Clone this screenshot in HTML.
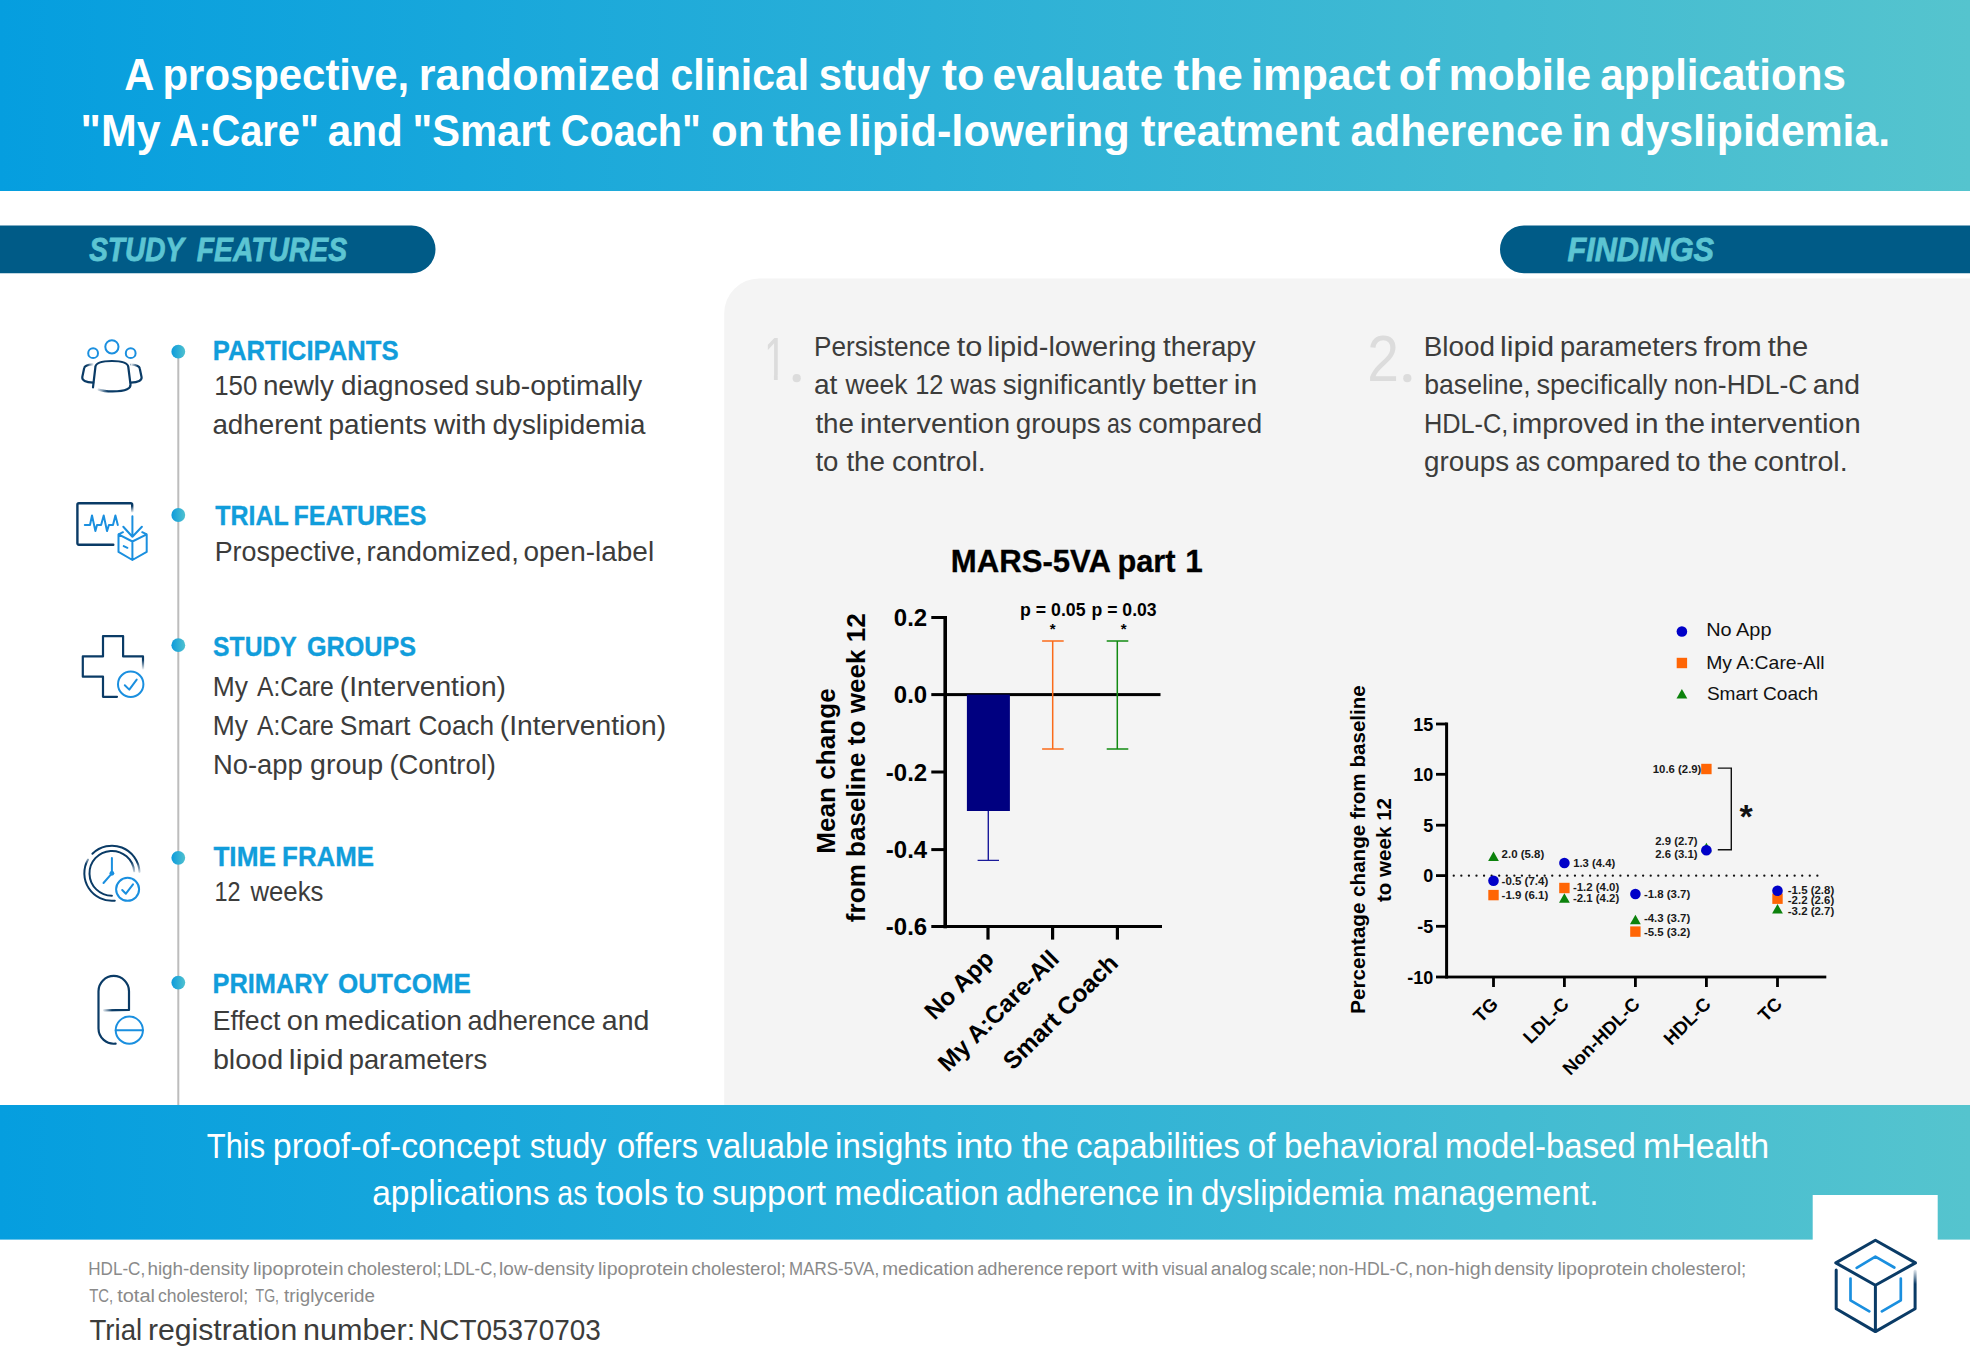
<!DOCTYPE html>
<html lang="en"><head><meta charset="utf-8"><title>mHealth apps and lipid-lowering treatment adherence</title>
<style>
html,body{margin:0;padding:0;background:#fff;}
body{width:1970px;height:1350px;overflow:hidden;font-family:"Liberation Sans",sans-serif;}
svg{display:block;position:absolute;left:0;top:0;}
text{font-family:"Liberation Sans",sans-serif;white-space:pre;}
</style></head><body>
<svg width="1970" height="1350" viewBox="0 0 1970 1350">
<defs>
<linearGradient id="gb" x1="0" y1="0" x2="1" y2="0"><stop offset="0" stop-color="#059edf"/><stop offset="1" stop-color="#55c4ce"/></linearGradient>
<linearGradient id="gd" x1="0" y1="0" x2="1" y2="0"><stop offset="0" stop-color="#0d9bdc"/><stop offset="1" stop-color="#4fc1cf"/></linearGradient>
<linearGradient id="fR" x1="0" y1="0" x2="1" y2="0"><stop offset="0" stop-color="#fff" stop-opacity="0"/><stop offset="1" stop-color="#fff"/></linearGradient>
<linearGradient id="fL" x1="1" y1="0" x2="0" y2="0"><stop offset="0" stop-color="#fff" stop-opacity="0"/><stop offset="1" stop-color="#fff"/></linearGradient>
<linearGradient id="fD" x1="0" y1="0" x2="0" y2="1"><stop offset="0" stop-color="#fff" stop-opacity="0"/><stop offset="1" stop-color="#fff"/></linearGradient>
<linearGradient id="fU" x1="0" y1="1" x2="0" y2="0"><stop offset="0" stop-color="#fff" stop-opacity="0"/><stop offset="1" stop-color="#fff"/></linearGradient>
</defs>

<rect x="0" y="0" width="1970" height="191" fill="url(#gb)"/>
<text y="89.8" font-size="44" fill="#fff" font-weight="bold"><tspan x="124.3" textLength="28.6" lengthAdjust="spacingAndGlyphs">A</tspan> <tspan x="162.5" textLength="246.7" lengthAdjust="spacingAndGlyphs">prospective,</tspan> <tspan x="418.8" textLength="241.7" lengthAdjust="spacingAndGlyphs">randomized</tspan> <tspan x="670.5" textLength="138.5" lengthAdjust="spacingAndGlyphs">clinical</tspan> <tspan x="818.7" textLength="111.5" lengthAdjust="spacingAndGlyphs">study</tspan> <tspan x="942.1" textLength="42.4" lengthAdjust="spacingAndGlyphs">to</tspan> <tspan x="992.5" textLength="170.6" lengthAdjust="spacingAndGlyphs">evaluate</tspan> <tspan x="1173.8" textLength="69.1" lengthAdjust="spacingAndGlyphs">the</tspan> <tspan x="1251.0" textLength="139.3" lengthAdjust="spacingAndGlyphs">impact</tspan> <tspan x="1398.8" textLength="40.9" lengthAdjust="spacingAndGlyphs">of</tspan> <tspan x="1448.4" textLength="142.7" lengthAdjust="spacingAndGlyphs">mobile</tspan> <tspan x="1600.3" textLength="245.6" lengthAdjust="spacingAndGlyphs">applications</tspan></text>
<text y="145.6" font-size="44" fill="#fff" font-weight="bold"><tspan x="80.6" textLength="80.0" lengthAdjust="spacingAndGlyphs">&quot;My</tspan> <tspan x="169.4" textLength="149.5" lengthAdjust="spacingAndGlyphs">A:Care&quot;</tspan> <tspan x="327.8" textLength="75.1" lengthAdjust="spacingAndGlyphs">and</tspan> <tspan x="412.5" textLength="137.8" lengthAdjust="spacingAndGlyphs">&quot;Smart</tspan> <tspan x="560.8" textLength="140.0" lengthAdjust="spacingAndGlyphs">Coach&quot;</tspan> <tspan x="711.0" textLength="53.4" lengthAdjust="spacingAndGlyphs">on</tspan> <tspan x="772.5" textLength="69.4" lengthAdjust="spacingAndGlyphs">the</tspan> <tspan x="847.7" textLength="282.1" lengthAdjust="spacingAndGlyphs">lipid-lowering</tspan> <tspan x="1140.9" textLength="198.8" lengthAdjust="spacingAndGlyphs">treatment</tspan> <tspan x="1350.6" textLength="212.6" lengthAdjust="spacingAndGlyphs">adherence</tspan> <tspan x="1571.2" textLength="40.2" lengthAdjust="spacingAndGlyphs">in</tspan> <tspan x="1619.5" textLength="270.6" lengthAdjust="spacingAndGlyphs">dyslipidemia.</tspan></text>
<path d="M0 225.4H411.6a23.9 23.9 0 0 1 0 47.8H0Z" fill="#005b87"/>
<path d="M1970 225.4H1523.9a23.9 23.9 0 0 0 0 47.8H1970Z" fill="#005b87"/>
<text y="261.0" font-size="33.5" fill="#5cc5d3" font-weight="bold" font-style="italic" stroke="#5cc5d3" stroke-width="0.8"><tspan x="89.2" textLength="94.3" lengthAdjust="spacingAndGlyphs">STUDY</tspan> <tspan x="196.8" textLength="150.2" lengthAdjust="spacingAndGlyphs">FEATURES</tspan></text>
<text x="1567.5" y="261.0" font-size="33.5" fill="#5cc5d3" font-weight="bold" font-style="italic" textLength="146.4" lengthAdjust="spacingAndGlyphs" stroke="#5cc5d3" stroke-width="0.8">FINDINGS</text>
<path d="M1970 278.4H759.2a35 35 0 0 0 -35 35V1105H1970Z" fill="#f4f4f4"/>
<rect x="177.3" y="352" width="2" height="753" fill="#bdbdbd"/>
<circle cx="178.3" cy="351.7" r="6.9" fill="url(#gd)"/>
<circle cx="178.3" cy="515" r="6.9" fill="url(#gd)"/>
<circle cx="178.3" cy="645.2" r="6.9" fill="url(#gd)"/>
<circle cx="178.3" cy="857.8" r="6.9" fill="url(#gd)"/>
<circle cx="178.3" cy="982.6" r="6.9" fill="url(#gd)"/>
<text y="359.8" font-size="28" fill="#119ddb" font-weight="bold" stroke="#119ddb" stroke-width="0.35"><tspan x="212.8" textLength="185.8" lengthAdjust="spacingAndGlyphs">PARTICIPANTS</tspan></text>
<text y="395.4" font-size="27.5" fill="#3c3c3b"><tspan x="214.2" textLength="43.1" lengthAdjust="spacingAndGlyphs">150</tspan> <tspan x="262.9" textLength="71.0" lengthAdjust="spacingAndGlyphs">newly</tspan> <tspan x="341.0" textLength="128.3" lengthAdjust="spacingAndGlyphs">diagnosed</tspan> <tspan x="475.0" textLength="167.3" lengthAdjust="spacingAndGlyphs">sub-optimally</tspan></text>
<text y="434.4" font-size="27.5" fill="#3c3c3b"><tspan x="212.4" textLength="109.7" lengthAdjust="spacingAndGlyphs">adherent</tspan> <tspan x="328.5" textLength="98.2" lengthAdjust="spacingAndGlyphs">patients</tspan> <tspan x="434.1" textLength="52.4" lengthAdjust="spacingAndGlyphs">with</tspan> <tspan x="492.5" textLength="153.1" lengthAdjust="spacingAndGlyphs">dyslipidemia</tspan></text>
<text y="524.8" font-size="28" fill="#119ddb" font-weight="bold" stroke="#119ddb" stroke-width="0.35"><tspan x="215.2" textLength="73.1" lengthAdjust="spacingAndGlyphs">TRIAL</tspan> <tspan x="293.5" textLength="133.0" lengthAdjust="spacingAndGlyphs">FEATURES</tspan></text>
<text y="561.1" font-size="27.5" fill="#3c3c3b"><tspan x="214.7" textLength="147.8" lengthAdjust="spacingAndGlyphs">Prospective,</tspan> <tspan x="366.6" textLength="152.3" lengthAdjust="spacingAndGlyphs">randomized,</tspan> <tspan x="523.5" textLength="130.6" lengthAdjust="spacingAndGlyphs">open-label</tspan></text>
<text y="655.8" font-size="28" fill="#119ddb" font-weight="bold" stroke="#119ddb" stroke-width="0.35"><tspan x="213.1" textLength="83.2" lengthAdjust="spacingAndGlyphs">STUDY</tspan> <tspan x="306.9" textLength="109.1" lengthAdjust="spacingAndGlyphs">GROUPS</tspan></text>
<text y="696.4" font-size="27.5" fill="#3c3c3b"><tspan x="212.7" textLength="35.2" lengthAdjust="spacingAndGlyphs">My</tspan> <tspan x="257.0" textLength="76.8" lengthAdjust="spacingAndGlyphs">A:Care</tspan> <tspan x="339.8" textLength="166.2" lengthAdjust="spacingAndGlyphs">(Intervention)</tspan></text>
<text y="734.8" font-size="27.5" fill="#3c3c3b"><tspan x="212.7" textLength="35.2" lengthAdjust="spacingAndGlyphs">My</tspan> <tspan x="257.0" textLength="76.8" lengthAdjust="spacingAndGlyphs">A:Care</tspan> <tspan x="339.8" textLength="70.6" lengthAdjust="spacingAndGlyphs">Smart</tspan> <tspan x="418.4" textLength="75.8" lengthAdjust="spacingAndGlyphs">Coach</tspan> <tspan x="499.8" textLength="166.3" lengthAdjust="spacingAndGlyphs">(Intervention)</tspan></text>
<text y="773.6" font-size="27.5" fill="#3c3c3b"><tspan x="213.0" textLength="89.8" lengthAdjust="spacingAndGlyphs">No-app</tspan> <tspan x="310.0" textLength="73.2" lengthAdjust="spacingAndGlyphs">group</tspan> <tspan x="389.4" textLength="106.5" lengthAdjust="spacingAndGlyphs">(Control)</tspan></text>
<text y="866.3" font-size="28" fill="#119ddb" font-weight="bold" stroke="#119ddb" stroke-width="0.35"><tspan x="213.4" textLength="62.5" lengthAdjust="spacingAndGlyphs">TIME</tspan> <tspan x="282.1" textLength="92.0" lengthAdjust="spacingAndGlyphs">FRAME</tspan></text>
<text y="900.5" font-size="27.5" fill="#3c3c3b"><tspan x="214.4" textLength="26.1" lengthAdjust="spacingAndGlyphs">12</tspan> <tspan x="250.4" textLength="73.1" lengthAdjust="spacingAndGlyphs">weeks</tspan></text>
<text y="993.3" font-size="28" fill="#119ddb" font-weight="bold" stroke="#119ddb" stroke-width="0.35"><tspan x="212.5" textLength="115.6" lengthAdjust="spacingAndGlyphs">PRIMARY</tspan> <tspan x="338.0" textLength="132.9" lengthAdjust="spacingAndGlyphs">OUTCOME</tspan></text>
<text y="1030.0" font-size="27.5" fill="#3c3c3b"><tspan x="212.8" textLength="67.6" lengthAdjust="spacingAndGlyphs">Effect</tspan> <tspan x="286.8" textLength="32.2" lengthAdjust="spacingAndGlyphs">on</tspan> <tspan x="324.3" textLength="137.8" lengthAdjust="spacingAndGlyphs">medication</tspan> <tspan x="467.5" textLength="128.1" lengthAdjust="spacingAndGlyphs">adherence</tspan> <tspan x="601.8" textLength="47.7" lengthAdjust="spacingAndGlyphs">and</tspan></text>
<text y="1069.1" font-size="27.5" fill="#3c3c3b"><tspan x="212.9" textLength="70.3" lengthAdjust="spacingAndGlyphs">blood</tspan> <tspan x="288.8" textLength="54.7" lengthAdjust="spacingAndGlyphs">lipid</tspan> <tspan x="348.7" textLength="138.4" lengthAdjust="spacingAndGlyphs">parameters</tspan></text>
<circle cx="111.9" cy="346.8" r="6.6" fill="none" stroke="#1a8fdf" stroke-width="2"/>
<circle cx="93.1" cy="353.2" r="4.9" fill="none" stroke="#1a8fdf" stroke-width="2"/>
<circle cx="130.7" cy="353.2" r="4.9" fill="none" stroke="#1a8fdf" stroke-width="2"/>
<path d="M93 387.4 L95.4 367 C95.8 362.8 101 361 111.9 361 C122.8 361 127.8 362.8 128.3 367 L130.5 384.4 C130.9 388 127 391.4 112.5 391.4 C106 391.4 101.5 390.6 98.5 389.6" fill="none" stroke="#0a3b66" stroke-width="2.2" stroke-linecap="round" stroke-linejoin="round" />
<path d="M92.8 364.3 C87.5 364.6 84.6 365.6 84.2 368 L82.3 377 C81.8 380.4 85.5 382.3 93.2 382.6" fill="none" stroke="#0a3b66" stroke-width="2.2" stroke-linecap="round" stroke-linejoin="round" />
<path d="M131.2 364.6 C136.4 364.9 139.3 365.8 139.7 368.2 L141.6 377.2 C142 380.5 138.4 382.3 130.8 382.6" fill="none" stroke="#0a3b66" stroke-width="2.2" stroke-linecap="round" stroke-linejoin="round" />
<rect x="87" y="362" width="7" height="5" fill="url(#fR)"/>
<rect x="130.5" y="362" width="7" height="5" fill="url(#fL)"/>
<rect x="96" y="387.5" width="12" height="6" fill="url(#fL)"/>
<path d="M132.2 511.5 V504.8 a1.5 1.5 0 0 0 -1.5 -1.5 H78.9 a1.5 1.5 0 0 0 -1.5 1.5 V543.3 a1.5 1.5 0 0 0 1.5 1.5 H113.3" fill="none" stroke="#0a3b66" stroke-width="2.4" stroke-linecap="round" stroke-linejoin="round" />
<rect x="130" y="506" width="5" height="7" fill="url(#fD)"/>
<path d="M84.8 525 H90 L92 515.4 L95.4 531.1 L97 525 H101.1 L103.7 515.4 L107 531.1 L108.9 525 H113 L115.4 515.4 L117.8 525" fill="none" stroke="#1a8fdf" stroke-width="2.0" stroke-linecap="round" stroke-linejoin="round" />
<path d="M132.4 516.3 V536.7 M123.3 526.8 L132.4 536.7 L141.9 526.8" fill="none" stroke="#1a8fdf" stroke-width="2.0" stroke-linecap="round" stroke-linejoin="round" />
<path d="M118.5 534.4 L132.4 541.5 L146.7 534.4 M118.5 534.4 V551.9 L132.4 560 L146.7 551.9 V534.4 M132.4 541.5 V560 M118.5 534.4 L123 532.2 M146.7 534.4 L142.2 532.2 M123.7 546.1 L127.4 547.8" fill="none" stroke="#1a8fdf" stroke-width="2.0" stroke-linecap="round" stroke-linejoin="round" />
<path d="M117 696.8 H103 V676.7 H82.8 V656.4 H103 V636.1 H123.1 V656.4 H143 V669" fill="none" stroke="#0a3b66" stroke-width="2.2" stroke-linecap="round" stroke-linejoin="round" stroke-linecap="butt"/>
<rect x="141" y="660" width="4" height="10" fill="url(#fD)"/>
<circle cx="130.7" cy="684.3" r="12.7" fill="#fff" stroke="#1a8fdf" stroke-width="2"/>
<path d="M124.8 685.2 L129.3 689.6 L136.7 679.6" fill="none" stroke="#1a8fdf" stroke-width="2.0" stroke-linecap="round" stroke-linejoin="round" />
<path d="M134.2 871.3 A22.4 22.4 0 1 0 111.9 895.7" fill="none" stroke="#0a3b66" stroke-width="2.0" stroke-linecap="round" stroke-linejoin="round" />
<path d="M92.4 853.8 A27.6 27.6 0 0 1 139.5 871.9" fill="none" stroke="#0a3b66" stroke-width="2.0" stroke-linecap="round" stroke-linejoin="round" />
<path d="M88.0 859.5 A27.6 27.6 0 0 0 114.8 900.7" fill="none" stroke="#0a3b66" stroke-width="2.0" stroke-linecap="round" stroke-linejoin="round" />
<rect x="130" y="862" width="12" height="13" fill="url(#fD)"/>
<rect x="82" y="855" width="9" height="9" fill="url(#fU)"/>
<path d="M111.9 858.1 V873.3 L103.5 883" fill="none" stroke="#1a8fdf" stroke-width="2.0" stroke-linecap="round" stroke-linejoin="round" />
<circle cx="111.9" cy="873.3" r="2.4" fill="#1a8fdf"/>
<circle cx="127.6" cy="889.3" r="11.5" fill="#fff" stroke="#1a8fdf" stroke-width="2"/>
<path d="M122.2 890 L125.9 893.7 L133 884.4" fill="none" stroke="#1a8fdf" stroke-width="2.0" stroke-linecap="round" stroke-linejoin="round" />
<path d="M104 1010.3 L129 1009.9 V991.2 A15.25 15.25 0 0 0 98.5 991.2 V1028.5 A15.25 15.25 0 0 0 115.6 1043.6" fill="none" stroke="#0a3b66" stroke-width="2.2" stroke-linecap="round" stroke-linejoin="round" />
<rect x="102" y="1008" width="10" height="5" fill="url(#fL)"/>
<circle cx="129.3" cy="1030.2" r="13.6" fill="#fff" stroke="#1a8fdf" stroke-width="2"/>
<path d="M115.7 1030.2 H142.9" fill="none" stroke="#1a8fdf" stroke-width="2.0" stroke-linecap="round" stroke-linejoin="round" />
<text x="763.9" y="380.3" font-size="62" fill="#dcdcdc" textLength="22.4" lengthAdjust="spacingAndGlyphs">1</text>
<rect x="764.5" y="375" width="9.4" height="6" fill="#f4f4f4"/><rect x="777.7" y="375" width="8" height="6" fill="#f4f4f4"/>
<text x="792.5" y="379.8" font-size="30" fill="#dcdcdc">.</text>
<circle cx="796.7" cy="378.2" r="4.1" fill="#dcdcdc"/>
<text x="1367.2" y="381.4" font-size="64" fill="#dcdcdc" textLength="31.7" lengthAdjust="spacingAndGlyphs">2</text>
<text x="1403.1" y="379.8" font-size="30" fill="#dcdcdc">.</text>
<circle cx="1407.3" cy="378.2" r="4.1" fill="#dcdcdc"/>
<text y="355.6" font-size="27.5" fill="#3c3c3b"><tspan x="814.1" textLength="136.5" lengthAdjust="spacingAndGlyphs">Persistence</tspan> <tspan x="956.7" textLength="25.7" lengthAdjust="spacingAndGlyphs">to</tspan> <tspan x="987.2" textLength="169.2" lengthAdjust="spacingAndGlyphs">lipid-lowering</tspan> <tspan x="1163.0" textLength="92.7" lengthAdjust="spacingAndGlyphs">therapy</tspan></text>
<text y="394.1" font-size="27.5" fill="#3c3c3b"><tspan x="813.9" textLength="23.5" lengthAdjust="spacingAndGlyphs">at</tspan> <tspan x="845.6" textLength="61.9" lengthAdjust="spacingAndGlyphs">week</tspan> <tspan x="915.2" textLength="28.3" lengthAdjust="spacingAndGlyphs">12</tspan> <tspan x="950.5" textLength="45.8" lengthAdjust="spacingAndGlyphs">was</tspan> <tspan x="1002.7" textLength="143.0" lengthAdjust="spacingAndGlyphs">significantly</tspan> <tspan x="1151.9" textLength="75.9" lengthAdjust="spacingAndGlyphs">better</tspan> <tspan x="1233.7" textLength="23.5" lengthAdjust="spacingAndGlyphs">in</tspan></text>
<text y="432.9" font-size="27.5" fill="#3c3c3b"><tspan x="815.4" textLength="38.6" lengthAdjust="spacingAndGlyphs">the</tspan> <tspan x="859.9" textLength="150.3" lengthAdjust="spacingAndGlyphs">intervention</tspan> <tspan x="1015.7" textLength="85.0" lengthAdjust="spacingAndGlyphs">groups</tspan> <tspan x="1107.0" textLength="24.5" lengthAdjust="spacingAndGlyphs">as</tspan> <tspan x="1138.3" textLength="123.9" lengthAdjust="spacingAndGlyphs">compared</tspan></text>
<text y="471.4" font-size="27.5" fill="#3c3c3b"><tspan x="815.4" textLength="23.0" lengthAdjust="spacingAndGlyphs">to</tspan> <tspan x="846.4" textLength="38.6" lengthAdjust="spacingAndGlyphs">the</tspan> <tspan x="892.1" textLength="93.7" lengthAdjust="spacingAndGlyphs">control.</tspan></text>
<text y="355.6" font-size="27.5" fill="#3c3c3b"><tspan x="1423.7" textLength="71.4" lengthAdjust="spacingAndGlyphs">Blood</tspan> <tspan x="1500.1" textLength="54.1" lengthAdjust="spacingAndGlyphs">lipid</tspan> <tspan x="1559.9" textLength="137.6" lengthAdjust="spacingAndGlyphs">parameters</tspan> <tspan x="1703.8" textLength="57.9" lengthAdjust="spacingAndGlyphs">from</tspan> <tspan x="1767.7" textLength="40.5" lengthAdjust="spacingAndGlyphs">the</tspan></text>
<text y="394.1" font-size="27.5" fill="#3c3c3b"><tspan x="1424.3" textLength="106.4" lengthAdjust="spacingAndGlyphs">baseline,</tspan> <tspan x="1536.4" textLength="131.0" lengthAdjust="spacingAndGlyphs">specifically</tspan> <tspan x="1673.8" textLength="133.5" lengthAdjust="spacingAndGlyphs">non-HDL-C</tspan> <tspan x="1812.8" textLength="47.3" lengthAdjust="spacingAndGlyphs">and</tspan></text>
<text y="432.9" font-size="27.5" fill="#3c3c3b"><tspan x="1423.9" textLength="84.5" lengthAdjust="spacingAndGlyphs">HDL-C,</tspan> <tspan x="1512.1" textLength="117.1" lengthAdjust="spacingAndGlyphs">improved</tspan> <tspan x="1634.9" textLength="23.6" lengthAdjust="spacingAndGlyphs">in</tspan> <tspan x="1665.1" textLength="39.9" lengthAdjust="spacingAndGlyphs">the</tspan> <tspan x="1710.1" textLength="150.7" lengthAdjust="spacingAndGlyphs">intervention</tspan></text>
<text y="471.4" font-size="27.5" fill="#3c3c3b"><tspan x="1424.0" textLength="85.1" lengthAdjust="spacingAndGlyphs">groups</tspan> <tspan x="1515.4" textLength="24.5" lengthAdjust="spacingAndGlyphs">as</tspan> <tspan x="1546.2" textLength="124.0" lengthAdjust="spacingAndGlyphs">compared</tspan> <tspan x="1676.6" textLength="24.0" lengthAdjust="spacingAndGlyphs">to</tspan> <tspan x="1708.1" textLength="39.4" lengthAdjust="spacingAndGlyphs">the</tspan> <tspan x="1753.8" textLength="93.8" lengthAdjust="spacingAndGlyphs">control.</tspan></text>
<text y="572.3" font-size="31.5" fill="#000" font-weight="bold" stroke="#000" stroke-width="0.3"><tspan x="950.8" textLength="159.1" lengthAdjust="spacingAndGlyphs">MARS-5VA</tspan> <tspan x="1117.4" textLength="58.2" lengthAdjust="spacingAndGlyphs">part</tspan></text>
<text x="1185.2" y="572.3" font-size="31.5" fill="#000" font-weight="bold" stroke="#000" stroke-width="0.3">1</text>
<rect x="943.4000000000001" y="616" width="3.6" height="312.3" fill="#000"/>
<rect x="931.3" y="616.0" width="13.900000000000091" height="3" fill="#000"/>
<text x="927.2" y="626.3" font-size="24" fill="#000" font-weight="bold" text-anchor="end">0.2</text>
<rect x="931.3" y="693.1" width="229.20000000000005" height="3" fill="#000"/>
<text x="927.2" y="703.4" font-size="24" fill="#000" font-weight="bold" text-anchor="end">0.0</text>
<rect x="931.3" y="770.5" width="13.900000000000091" height="3" fill="#000"/>
<text x="927.2" y="780.8" font-size="24" fill="#000" font-weight="bold" text-anchor="end">-0.2</text>
<rect x="931.3" y="848.1" width="13.900000000000091" height="3" fill="#000"/>
<text x="927.2" y="858.4" font-size="24" fill="#000" font-weight="bold" text-anchor="end">-0.4</text>
<rect x="931.3" y="925.0" width="230.70000000000005" height="3" fill="#000"/>
<text x="927.2" y="935.3" font-size="24" fill="#000" font-weight="bold" text-anchor="end">-0.6</text>
<rect x="986.4" y="926" width="3.2" height="13.6" fill="#000"/>
<rect x="1051.0" y="926" width="3.2" height="13.6" fill="#000"/>
<rect x="1115.8000000000002" y="926" width="3.2" height="13.6" fill="#000"/>
<rect x="966.9" y="694.6" width="43" height="116.4" fill="#000080"/>
<path d="M988.3 811V860.4M977.6 860.4H999" stroke="#1a1a9a" stroke-width="1.4" fill="none"/>
<path d="M1052.7 641.1V749M1042.1 641.1H1063.7M1042.1 749H1063.7" stroke="#fa6b1a" stroke-width="1.5" fill="none"/>
<path d="M1117.3 641.1V749M1106.7 641.1H1128.3M1106.7 749H1128.3" stroke="#128a12" stroke-width="1.5" fill="none"/>
<text x="1020.1" y="615.8" font-size="17.5" fill="#000" font-weight="bold" textLength="65.4" lengthAdjust="spacingAndGlyphs">p = 0.05</text>
<text x="1091.6" y="615.8" font-size="17.5" fill="#000" font-weight="bold" textLength="65.0" lengthAdjust="spacingAndGlyphs">p = 0.03</text>
<text x="1052.7" y="633.8" font-size="15" fill="#000" font-weight="bold" text-anchor="middle">*</text>
<text x="1123.7" y="633.8" font-size="15" fill="#000" font-weight="bold" text-anchor="middle">*</text>
<text x="834.5" y="771.0" font-size="26.1" fill="#000" font-weight="bold" text-anchor="middle" transform="rotate(-90 834.5 771.0)">Mean change</text>
<text x="865.5" y="767.7" font-size="26.1" fill="#000" font-weight="bold" text-anchor="middle" transform="rotate(-90 865.5 767.7)">from baseline to week 12</text>
<text x="995.3" y="960.4" font-size="24.4" fill="#000" font-weight="bold" text-anchor="end" transform="rotate(-45 995.3 960.4)">No App</text>
<text x="1060.5" y="960.5" font-size="24.4" fill="#000" font-weight="bold" text-anchor="end" transform="rotate(-45 1060.5 960.5)">My A:Care-All</text>
<text x="1119.5" y="964.7" font-size="24.4" fill="#000" font-weight="bold" text-anchor="end" transform="rotate(-45 1119.5 964.7)">Smart Coach</text>
<rect x="1445.1" y="722.5" width="3" height="256" fill="#000"/>
<rect x="1436" y="722.6" width="10.599999999999909" height="2.8" fill="#000"/>
<text x="1433.3" y="730.8" font-size="18" fill="#000" font-weight="bold" text-anchor="end">15</text>
<rect x="1436" y="772.9" width="10.599999999999909" height="2.8" fill="#000"/>
<text x="1433.3" y="781.1" font-size="18" fill="#000" font-weight="bold" text-anchor="end">10</text>
<rect x="1436" y="823.8000000000001" width="10.599999999999909" height="2.8" fill="#000"/>
<text x="1433.3" y="832.0" font-size="18" fill="#000" font-weight="bold" text-anchor="end">5</text>
<rect x="1436" y="874.2" width="10.599999999999909" height="2.8" fill="#000"/>
<text x="1433.3" y="882.4" font-size="18" fill="#000" font-weight="bold" text-anchor="end">0</text>
<rect x="1436" y="924.9" width="10.599999999999909" height="2.8" fill="#000"/>
<text x="1433.3" y="933.1" font-size="18" fill="#000" font-weight="bold" text-anchor="end">-5</text>
<rect x="1436" y="975.6" width="390.29999999999995" height="2.8" fill="#000"/>
<text x="1433.3" y="983.8" font-size="18" fill="#000" font-weight="bold" text-anchor="end">-10</text>
<rect x="1492.1" y="977" width="2.8" height="10" fill="#000"/>
<rect x="1563.0" y="977" width="2.8" height="10" fill="#000"/>
<rect x="1634.0" y="977" width="2.8" height="10" fill="#000"/>
<rect x="1705.0" y="977" width="2.8" height="10" fill="#000"/>
<rect x="1776.1" y="977" width="2.8" height="10" fill="#000"/>
<path d="M1453.76 875.7H1818" stroke="#111" stroke-width="2.3" stroke-linecap="round" stroke-dasharray="0 7.575" fill="none"/>
<path d="M1488.1 860.9L1493.5 851.4L1498.9 860.9Z" fill="#0c820c"/>
<rect x="1488.3" y="889.9" width="10.4" height="10.4" fill="#ff6505"/>
<circle cx="1493.5" cy="880.7" r="5.3" fill="#0000c8"/>
<text x="1501.6" y="858.3" font-size="11" fill="#1a1a1a" font-weight="bold" textLength="42.6" lengthAdjust="spacingAndGlyphs">2.0 (5.8)</text>
<text x="1501.6" y="884.6" font-size="11" fill="#1a1a1a" font-weight="bold" textLength="46.7" lengthAdjust="spacingAndGlyphs">-0.5 (7.4)</text>
<text x="1501.6" y="898.8" font-size="11" fill="#1a1a1a" font-weight="bold" textLength="46.7" lengthAdjust="spacingAndGlyphs">-1.9 (6.1)</text>
<rect x="1559.2" y="882.8" width="10.4" height="10.4" fill="#ff6505"/>
<path d="M1559.0 902.7L1564.4 893.2L1569.8 902.7Z" fill="#0c820c"/>
<circle cx="1564.4" cy="863.0" r="5.3" fill="#0000c8"/>
<text x="1573.2" y="866.9" font-size="11" fill="#1a1a1a" font-weight="bold" textLength="42.0" lengthAdjust="spacingAndGlyphs">1.3 (4.4)</text>
<text x="1572.9" y="891.0" font-size="11" fill="#1a1a1a" font-weight="bold" textLength="46.4" lengthAdjust="spacingAndGlyphs">-1.2 (4.0)</text>
<text x="1572.9" y="902.0" font-size="11" fill="#1a1a1a" font-weight="bold" textLength="46.4" lengthAdjust="spacingAndGlyphs">-2.1 (4.2)</text>
<circle cx="1635.4" cy="894.0" r="5.3" fill="#0000c8"/>
<path d="M1630.0 924.2L1635.4 914.7L1640.8 924.2Z" fill="#0c820c"/>
<rect x="1630.2" y="926.4" width="10.4" height="10.4" fill="#ff6505"/>
<text x="1643.9" y="897.8" font-size="11" fill="#1a1a1a" font-weight="bold" textLength="46.4" lengthAdjust="spacingAndGlyphs">-1.8 (3.7)</text>
<text x="1643.9" y="922.3" font-size="11" fill="#1a1a1a" font-weight="bold" textLength="46.4" lengthAdjust="spacingAndGlyphs">-4.3 (3.7)</text>
<text x="1643.9" y="935.7" font-size="11" fill="#1a1a1a" font-weight="bold" textLength="46.4" lengthAdjust="spacingAndGlyphs">-5.5 (3.2)</text>
<rect x="1701.2" y="763.8" width="10.4" height="10.4" fill="#ff6505"/>
<path d="M1701.0 852.2L1706.4 842.7L1711.8 852.2Z" fill="#0c820c"/>
<circle cx="1706.4" cy="850.2" r="5.3" fill="#0000c8"/>
<text x="1652.8" y="773.0" font-size="11" fill="#1a1a1a" font-weight="bold" textLength="48.6" lengthAdjust="spacingAndGlyphs">10.6 (2.9)</text>
<text x="1655.2" y="844.9" font-size="11" fill="#1a1a1a" font-weight="bold" textLength="42.4" lengthAdjust="spacingAndGlyphs">2.9 (2.7)</text>
<text x="1655.2" y="857.7" font-size="11" fill="#1a1a1a" font-weight="bold" textLength="42.4" lengthAdjust="spacingAndGlyphs">2.6 (3.1)</text>
<path d="M1717.8 768.1H1731.3V849.8H1717.8" stroke="#111" stroke-width="1.4" fill="none"/>
<text x="1746.0" y="828.0" font-size="34" fill="#111" font-weight="bold" text-anchor="middle">*</text>
<rect x="1772.3" y="893.5" width="10.4" height="10.4" fill="#ff6505"/>
<path d="M1772.1 913.5L1777.5 904.0L1782.9 913.5Z" fill="#0c820c"/>
<circle cx="1777.5" cy="890.7" r="5.3" fill="#0000c8"/>
<text x="1787.8" y="893.5" font-size="11" fill="#1a1a1a" font-weight="bold" textLength="46.4" lengthAdjust="spacingAndGlyphs">-1.5 (2.8)</text>
<text x="1787.8" y="904.2" font-size="11" fill="#1a1a1a" font-weight="bold" textLength="46.4" lengthAdjust="spacingAndGlyphs">-2.2 (2.6)</text>
<text x="1787.8" y="914.8" font-size="11" fill="#1a1a1a" font-weight="bold" textLength="46.4" lengthAdjust="spacingAndGlyphs">-3.2 (2.7)</text>
<circle cx="1681.9" cy="631.5" r="5.3" fill="#0000c8"/>
<rect x="1676.7" y="657.8" width="10.4" height="10.4" fill="#ff6505"/>
<path d="M1676.5 698.4L1681.9 688.9L1687.3 698.4Z" fill="#0c820c"/>
<text x="1706.2" y="636.3" font-size="19" fill="#111" textLength="65.3" lengthAdjust="spacingAndGlyphs">No App</text>
<text x="1706.2" y="668.7" font-size="19" fill="#111" textLength="118.4" lengthAdjust="spacingAndGlyphs">My A:Care-All</text>
<text x="1706.9" y="699.7" font-size="19" fill="#111" textLength="111.3" lengthAdjust="spacingAndGlyphs">Smart Coach</text>
<text x="1364.6" y="849.4" font-size="20.6" fill="#000" font-weight="bold" text-anchor="middle" transform="rotate(-90 1364.6 849.4)">Percentage change from baseline</text>
<text x="1390.8" y="850.0" font-size="20.6" fill="#000" font-weight="bold" text-anchor="middle" transform="rotate(-90 1390.8 850.0)">to week 12</text>
<text x="1499.2" y="1005.3" font-size="18.6" fill="#000" font-weight="bold" text-anchor="end" transform="rotate(-45 1499.2 1005.3)">TG</text>
<text x="1570.1" y="1005.3" font-size="18.6" fill="#000" font-weight="bold" text-anchor="end" transform="rotate(-45 1570.1 1005.3)">LDL-C</text>
<text x="1641.1" y="1005.3" font-size="18.6" fill="#000" font-weight="bold" text-anchor="end" transform="rotate(-45 1641.1 1005.3)">Non-HDL-C</text>
<text x="1712.1" y="1005.3" font-size="18.6" fill="#000" font-weight="bold" text-anchor="end" transform="rotate(-45 1712.1 1005.3)">HDL-C</text>
<text x="1783.2" y="1005.3" font-size="18.6" fill="#000" font-weight="bold" text-anchor="end" transform="rotate(-45 1783.2 1005.3)">TC</text>
<rect x="0" y="1105" width="1970" height="134.6" fill="url(#gb)"/>
<rect x="1812.7" y="1195" width="125" height="50" fill="#fff"/>
<text y="1158.4" font-size="34.4" fill="#fff"><tspan x="206.8" textLength="58.4" lengthAdjust="spacingAndGlyphs">This</tspan> <tspan x="272.8" textLength="247.3" lengthAdjust="spacingAndGlyphs">proof-of-concept</tspan> <tspan x="529.7" textLength="76.6" lengthAdjust="spacingAndGlyphs">study</tspan> <tspan x="616.9" textLength="81.2" lengthAdjust="spacingAndGlyphs">offers</tspan> <tspan x="706.5" textLength="122.2" lengthAdjust="spacingAndGlyphs">valuable</tspan> <tspan x="835.1" textLength="112.5" lengthAdjust="spacingAndGlyphs">insights</tspan> <tspan x="955.5" textLength="57.2" lengthAdjust="spacingAndGlyphs">into</tspan> <tspan x="1021.8" textLength="47.1" lengthAdjust="spacingAndGlyphs">the</tspan> <tspan x="1075.9" textLength="163.9" lengthAdjust="spacingAndGlyphs">capabilities</tspan> <tspan x="1247.8" textLength="27.5" lengthAdjust="spacingAndGlyphs">of</tspan> <tspan x="1284.1" textLength="154.2" lengthAdjust="spacingAndGlyphs">behavioral</tspan> <tspan x="1445.1" textLength="190.8" lengthAdjust="spacingAndGlyphs">model-based</tspan> <tspan x="1642.9" textLength="126.3" lengthAdjust="spacingAndGlyphs">mHealth</tspan></text>
<text y="1204.6" font-size="34.4" fill="#fff"><tspan x="372.2" textLength="177.4" lengthAdjust="spacingAndGlyphs">applications</tspan> <tspan x="557.3" textLength="30.1" lengthAdjust="spacingAndGlyphs">as</tspan> <tspan x="595.6" textLength="72.7" lengthAdjust="spacingAndGlyphs">tools</tspan> <tspan x="675.3" textLength="29.0" lengthAdjust="spacingAndGlyphs">to</tspan> <tspan x="711.9" textLength="114.2" lengthAdjust="spacingAndGlyphs">support</tspan> <tspan x="834.2" textLength="164.4" lengthAdjust="spacingAndGlyphs">medication</tspan> <tspan x="1005.8" textLength="153.5" lengthAdjust="spacingAndGlyphs">adherence</tspan> <tspan x="1166.4" textLength="27.4" lengthAdjust="spacingAndGlyphs">in</tspan> <tspan x="1201.1" textLength="182.7" lengthAdjust="spacingAndGlyphs">dyslipidemia</tspan> <tspan x="1392.8" textLength="205.8" lengthAdjust="spacingAndGlyphs">management.</tspan></text>
<text y="1275.0" font-size="17.6" fill="#8a8a8a"><tspan x="88.2" textLength="57.0" lengthAdjust="spacingAndGlyphs">HDL-C,</tspan> <tspan x="147.4" textLength="101.8" lengthAdjust="spacingAndGlyphs">high-density</tspan> <tspan x="252.9" textLength="90.7" lengthAdjust="spacingAndGlyphs">lipoprotein</tspan> <tspan x="347.2" textLength="94.5" lengthAdjust="spacingAndGlyphs">cholesterol;</tspan> <tspan x="443.8" textLength="53.1" lengthAdjust="spacingAndGlyphs">LDL-C,</tspan> <tspan x="499.1" textLength="95.1" lengthAdjust="spacingAndGlyphs">low-density</tspan> <tspan x="598.0" textLength="90.3" lengthAdjust="spacingAndGlyphs">lipoprotein</tspan> <tspan x="691.6" textLength="94.4" lengthAdjust="spacingAndGlyphs">cholesterol;</tspan> <tspan x="789.1" textLength="90.0" lengthAdjust="spacingAndGlyphs">MARS-5VA,</tspan> <tspan x="882.3" textLength="91.9" lengthAdjust="spacingAndGlyphs">medication</tspan> <tspan x="977.2" textLength="86.1" lengthAdjust="spacingAndGlyphs">adherence</tspan> <tspan x="1066.2" textLength="51.0" lengthAdjust="spacingAndGlyphs">report</tspan> <tspan x="1122.1" textLength="36.5" lengthAdjust="spacingAndGlyphs">with</tspan> <tspan x="1162.2" textLength="45.4" lengthAdjust="spacingAndGlyphs">visual</tspan> <tspan x="1210.8" textLength="56.6" lengthAdjust="spacingAndGlyphs">analog</tspan> <tspan x="1270.0" textLength="46.3" lengthAdjust="spacingAndGlyphs">scale;</tspan> <tspan x="1318.6" textLength="94.6" lengthAdjust="spacingAndGlyphs">non-HDL-C,</tspan> <tspan x="1415.4" textLength="76.2" lengthAdjust="spacingAndGlyphs">non-high</tspan> <tspan x="1494.2" textLength="59.1" lengthAdjust="spacingAndGlyphs">density</tspan> <tspan x="1557.4" textLength="90.6" lengthAdjust="spacingAndGlyphs">lipoprotein</tspan> <tspan x="1651.3" textLength="94.9" lengthAdjust="spacingAndGlyphs">cholesterol;</tspan></text>
<text y="1301.7" font-size="17.6" fill="#8a8a8a"><tspan x="89.2" textLength="24.0" lengthAdjust="spacingAndGlyphs">TC,</tspan> <tspan x="117.2" textLength="37.8" lengthAdjust="spacingAndGlyphs">total</tspan> <tspan x="158.0" textLength="90.1" lengthAdjust="spacingAndGlyphs">cholesterol;</tspan> <tspan x="255.6" textLength="23.4" lengthAdjust="spacingAndGlyphs">TG,</tspan> <tspan x="284.1" textLength="90.8" lengthAdjust="spacingAndGlyphs">triglyceride</tspan></text>
<text y="1339.8" font-size="30.2" fill="#3c3c3b"><tspan x="89.5" textLength="52.7" lengthAdjust="spacingAndGlyphs">Trial</tspan> <tspan x="147.9" textLength="149.3" lengthAdjust="spacingAndGlyphs">registration</tspan> <tspan x="303.0" textLength="112.3" lengthAdjust="spacingAndGlyphs">number:</tspan> <tspan x="419.1" textLength="181.7" lengthAdjust="spacingAndGlyphs">NCT05370703</tspan></text>
<path d="M1875.4 1240.2 L1835.8 1262.9 L1875.4 1285.2 L1915.5 1262.9 Z M1836.2 1270 V1308.7 L1875.4 1331.6 L1915.1 1308.7 V1271 M1875.4 1285.2 V1331.6" fill="none" stroke="#0a3b66" stroke-width="3" stroke-linecap="round" stroke-linejoin="round" stroke-linecap="butt" stroke-linejoin="miter"/>
<rect x="1912" y="1268" width="6" height="16" fill="url(#fU)"/>
<path d="M1856.7 1267.8 L1875.4 1256.6 L1894.3 1267.5 M1850.5 1278.6 V1300.3 L1869.3 1311.4 M1900.8 1278.6 V1300.3 L1881.9 1311.4" fill="none" stroke="#1a8fdf" stroke-width="2.7" stroke-linecap="round" stroke-linejoin="round" stroke-linejoin="miter"/>
</svg>
</body></html>
